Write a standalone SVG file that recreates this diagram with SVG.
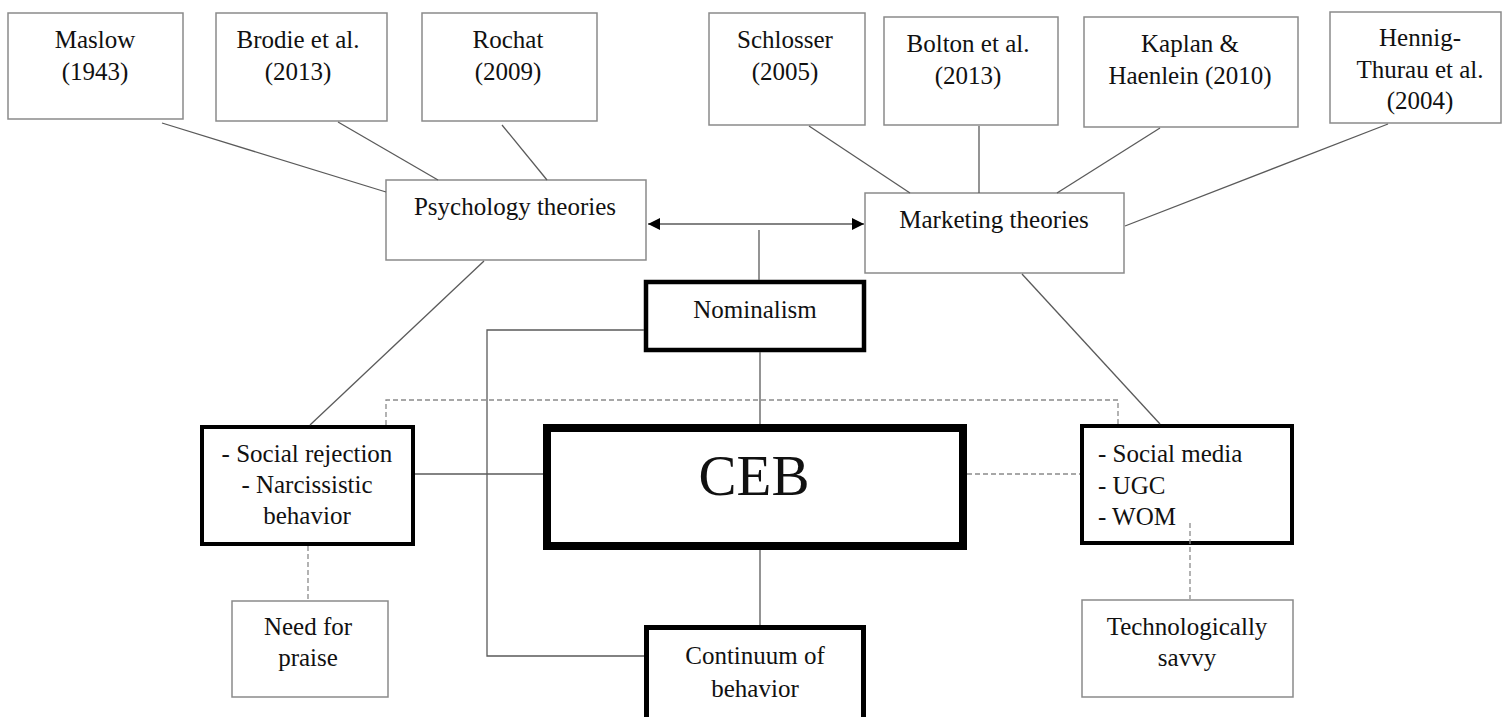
<svg xmlns="http://www.w3.org/2000/svg" width="1502" height="717" viewBox="0 0 1502 717">
<defs>
<style>
text{font-family:"Liberation Serif","Times New Roman",serif;font-size:25px;fill:#111;text-anchor:middle}
.thin{fill:#fff;stroke:#8a8a8a;stroke-width:1.5}
.bold{fill:#fff;stroke:#000}
.ln{fill:none;stroke:#5a5a5a;stroke-width:1.3}
.dash{fill:none;stroke:#8a8a8a;stroke-width:1.3;stroke-dasharray:5 3}
.lt{text-anchor:start}
</style>
<marker id="ah" viewBox="0 0 12 12" refX="12" refY="6" markerWidth="12" markerHeight="12" markerUnits="userSpaceOnUse" orient="auto-start-reverse">
<path d="M0,0 L12,6 L0,12 Z" fill="#000"/>
</marker>
</defs>
<rect width="1502" height="717" fill="#fff"/>

<g id="maslow">
<rect class="thin" x="8" y="13" width="175" height="106"/>
<text x="95" y="48">Maslow</text>
<text x="95" y="80">(1943)</text>
</g>
<g id="brodie">
<rect class="thin" x="216" y="13" width="171" height="108"/>
<text x="298" y="48">Brodie et al.</text>
<text x="298" y="80">(2013)</text>
</g>
<g id="rochat">
<rect class="thin" x="422" y="13" width="175" height="108"/>
<text x="508" y="48">Rochat</text>
<text x="508" y="80">(2009)</text>
</g>
<g id="schlosser">
<rect class="thin" x="709" y="13" width="156" height="112"/>
<text x="785" y="48">Schlosser</text>
<text x="785" y="80">(2005)</text>
</g>
<g id="bolton">
<rect class="thin" x="884" y="17" width="174" height="108"/>
<text x="968" y="52">Bolton et al.</text>
<text x="968" y="84">(2013)</text>
</g>
<g id="kaplan">
<rect class="thin" x="1084" y="17" width="214" height="110"/>
<text x="1190" y="52">Kaplan &amp;</text>
<text x="1190" y="84">Haenlein (2010)</text>
</g>
<g id="hennig">
<rect class="thin" x="1330" y="12" width="171" height="111"/>
<text x="1420" y="46">Hennig-</text>
<text x="1420" y="78">Thurau et al.</text>
<text x="1420" y="109">(2004)</text>
</g>
<g id="psychology">
<rect class="thin" x="386" y="180" width="260" height="80"/>
<text x="515" y="215">Psychology theories</text>
</g>
<g id="marketing">
<rect class="thin" x="865" y="193" width="259" height="80"/>
<text x="994" y="228">Marketing theories</text>
</g>
<g id="nominalism">
<rect class="bold" x="646" y="282" width="218" height="68" stroke-width="4.5"/>
<text x="755" y="318">Nominalism</text>
</g>
<g id="ceb">
<rect class="bold" x="547" y="428" width="416" height="118" stroke-width="8"/>
<text x="754" y="495" style="font-size:57px">CEB</text>
</g>
<g id="social-rejection">
<rect class="bold" x="202" y="427" width="211" height="117" stroke-width="4"/>
<text x="307" y="462">- Social rejection</text>
<text x="307" y="493">- Narcissistic</text>
<text x="307" y="524">behavior</text>
</g>
<g id="social-media">
<rect class="bold" x="1082" y="426" width="210" height="117" stroke-width="4"/>
<text class="lt" x="1098" y="462">- Social media</text>
<text class="lt" x="1098" y="494">- UGC</text>
<text class="lt" x="1098" y="525">- WOM</text>
</g>
<g id="need-for-praise">
<rect class="thin" x="232" y="601" width="156" height="96"/>
<text x="308" y="635">Need for</text>
<text x="308" y="666">praise</text>
</g>
<g id="technologically-savvy">
<rect class="thin" x="1082" y="600" width="211" height="97"/>
<text x="1187" y="635">Technologically</text>
<text x="1187" y="666">savvy</text>
</g>
<g id="continuum">
<rect class="bold" x="646.5" y="627.5" width="217" height="110" stroke-width="5"/>
<text x="755" y="664">Continuum of</text>
<text x="755" y="697">behavior</text>
</g>

<g id="connectors">
<line class="ln" x1="162" y1="123" x2="386" y2="192"/>
<line class="ln" x1="338" y1="122" x2="438" y2="180"/>
<line class="ln" x1="502" y1="125" x2="547" y2="180"/>
<line class="ln" x1="809" y1="126" x2="910" y2="193"/>
<line class="ln" x1="979" y1="126" x2="979" y2="193"/>
<line class="ln" x1="1160" y1="128" x2="1057" y2="193"/>
<line class="ln" x1="1388" y1="124" x2="1125" y2="226"/>
<line class="ln" x1="648" y1="224" x2="864" y2="224" marker-start="url(#ah)" marker-end="url(#ah)"/>
<line class="ln" x1="759" y1="230" x2="759" y2="280"/>
<line class="ln" x1="760" y1="352" x2="760" y2="424"/>
<line class="ln" x1="760" y1="550" x2="760" y2="625"/>
<line class="ln" x1="484" y1="261" x2="310" y2="425"/>
<line class="ln" x1="1022" y1="274" x2="1160" y2="424"/>
<polyline class="ln" points="644,330 487,330 487,656 644,656"/>
<line class="ln" x1="415" y1="474" x2="543" y2="474"/>
<polyline class="dash" points="386,425 386,400 1118,400 1118,424"/>
<line class="dash" x1="967" y1="474" x2="1080" y2="474"/>
<line class="dash" x1="308" y1="546" x2="308" y2="600"/>
<line class="dash" x1="1190" y1="523" x2="1190" y2="599"/>
</g>
</svg>
